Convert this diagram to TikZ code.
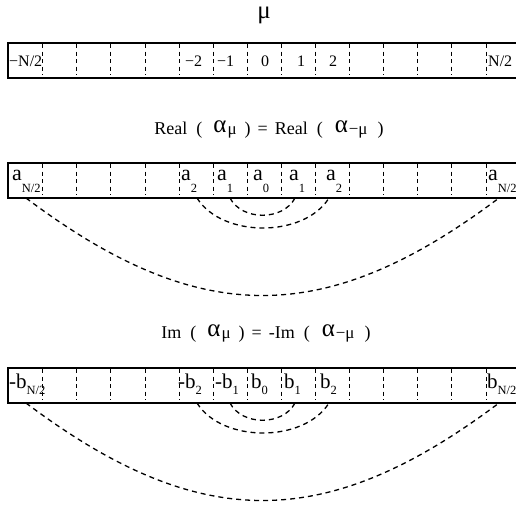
\documentclass[tikz,border=0pt]{standalone}
\usepackage{fontspec}
\setmainfont{Liberation Serif}
\newcommand\subA[1]{\raisebox{-12pt}{\fontsize{12.5}{12.5}\selectfont #1}}
\newcommand\subB[1]{\raisebox{-6pt}{\fontsize{12.5}{12.5}\selectfont #1}}
\newcommand\bigal{{\fontsize{25}{25}\selectfont\raisebox{2pt}{α}}}
\newcommand\smmu{{\fontsize{17}{17}\selectfont μ}}
\begin{document}
\begin{tikzpicture}[x=1pt,y=-1pt,
  boxline/.style={line width=1.7pt},
  divider/.style={line width=1pt, dash pattern=on 4pt off 3.5pt},
  arcline/.style={line width=1.3pt, dash pattern=on 5pt off 4pt},
  lbl/.style={anchor=base west, inner sep=0pt, font=\fontsize{16}{16}\selectfont},
  albl/.style={anchor=base west, inner sep=0pt, font=\fontsize{22}{22}\selectfont},
  blbl/.style={anchor=base west, inner sep=0pt, font=\fontsize{21}{21}\selectfont},
  ttl/.style={anchor=base, inner sep=0pt, font=\fontsize{18}{18}\selectfont}]
\useasboundingbox (0,0) rectangle (516,504);
\fill[white] (0,0) rectangle (516,504);
% titles
\node[ttl, font=\fontsize{25}{25}\selectfont] (t1) at (264,18.5) {μ};
\node[ttl] (t2) at (269,134) {Real\hspace{9pt}(\hspace{11pt}\bigal\hspace{1pt}\smmu\hspace{8pt})\hspace{7pt}=\hspace{7pt}Real\hspace{9pt}(\hspace{12pt}\bigal\hspace{1pt}{\fontsize{17}{17}\selectfont −μ}\hspace{10pt})};
\node[ttl] (t3) at (266,338) {Im\hspace{9pt}(\hspace{11pt}\bigal\hspace{1pt}\smmu\hspace{8pt})\hspace{7pt}=\hspace{7pt}-Im\hspace{9pt}(\hspace{12pt}\bigal\hspace{1pt}{\fontsize{17}{17}\selectfont −μ}\hspace{10pt})};
% boxes and dividers
\foreach \yt in {43,163,368}{
  \draw[boxline] (8,\yt) rectangle (522,\yt+35);
  \foreach \i in {1,...,14}{
    \draw[divider] ({8.6+34.1*\i},\yt+1) -- ++(0,31);
  }
}
% row 1 labels
\node[lbl] (m0) at (9,66) {−N/2};
\node[lbl] (m5) at (185,66) {−2};
\node[lbl] (m6) at (217,66) {−1};
\node[lbl] (m7) at (261,66) {0};
\node[lbl] (m8) at (297,66) {1};
\node[lbl] (m9) at (329,66) {2};
\node[lbl] (m14) at (488,66) {N/2};
% row 2 labels
\node[albl] (a0) at (12,180) {a\subA{N/2}};
\node[albl] (a5) at (181,180) {a\subA{2}};
\node[albl] (a6) at (217,180) {a\subA{1}};
\node[albl] (a7) at (253,180) {a\subA{0}};
\node[albl] (a8) at (289,180) {a\subA{1}};
\node[albl] (a9) at (326,180) {a\subA{2}};
\node[albl] (a14) at (488,180) {a\subA{N/2}};
% row 3 labels
\node[blbl] (b0) at (9,388) {-b\subB{N/2}};
\node[blbl] (b5) at (178,388) {-b\subB{2}};
\node[blbl] (b6) at (215,388) {-b\subB{1}};
\node[blbl] (b7) at (251,388) {b\subB{0}};
\node[blbl] (b8) at (284,388) {b\subB{1}};
\node[blbl] (b9) at (320,388) {b\subB{2}};
\node[blbl] (b14) at (487,388) {b\subB{N/2}};
% arc end points
\foreach \r/\yb in {2/198,3/403}{
  \coordinate (r\r c0) at (26,\yb);
  \coordinate (r\r c14) at (499,\yb);
  \coordinate (r\r c5) at (197,\yb);
  \coordinate (r\r c9) at (329,\yb);
  \coordinate (r\r c6) at (230,\yb);
  \coordinate (r\r c8) at (295,\yb);
  \draw[arcline] (r\r c0) .. controls +(173,130) and +(-173,130) .. (r\r c14);
  \draw[arcline] (r\r c5) .. controls +(25,40) and +(-25,40) .. (r\r c9);
  \draw[arcline] (r\r c6) .. controls +(12,23) and +(-12,23) .. (r\r c8);
}
\end{tikzpicture}
\end{document}
